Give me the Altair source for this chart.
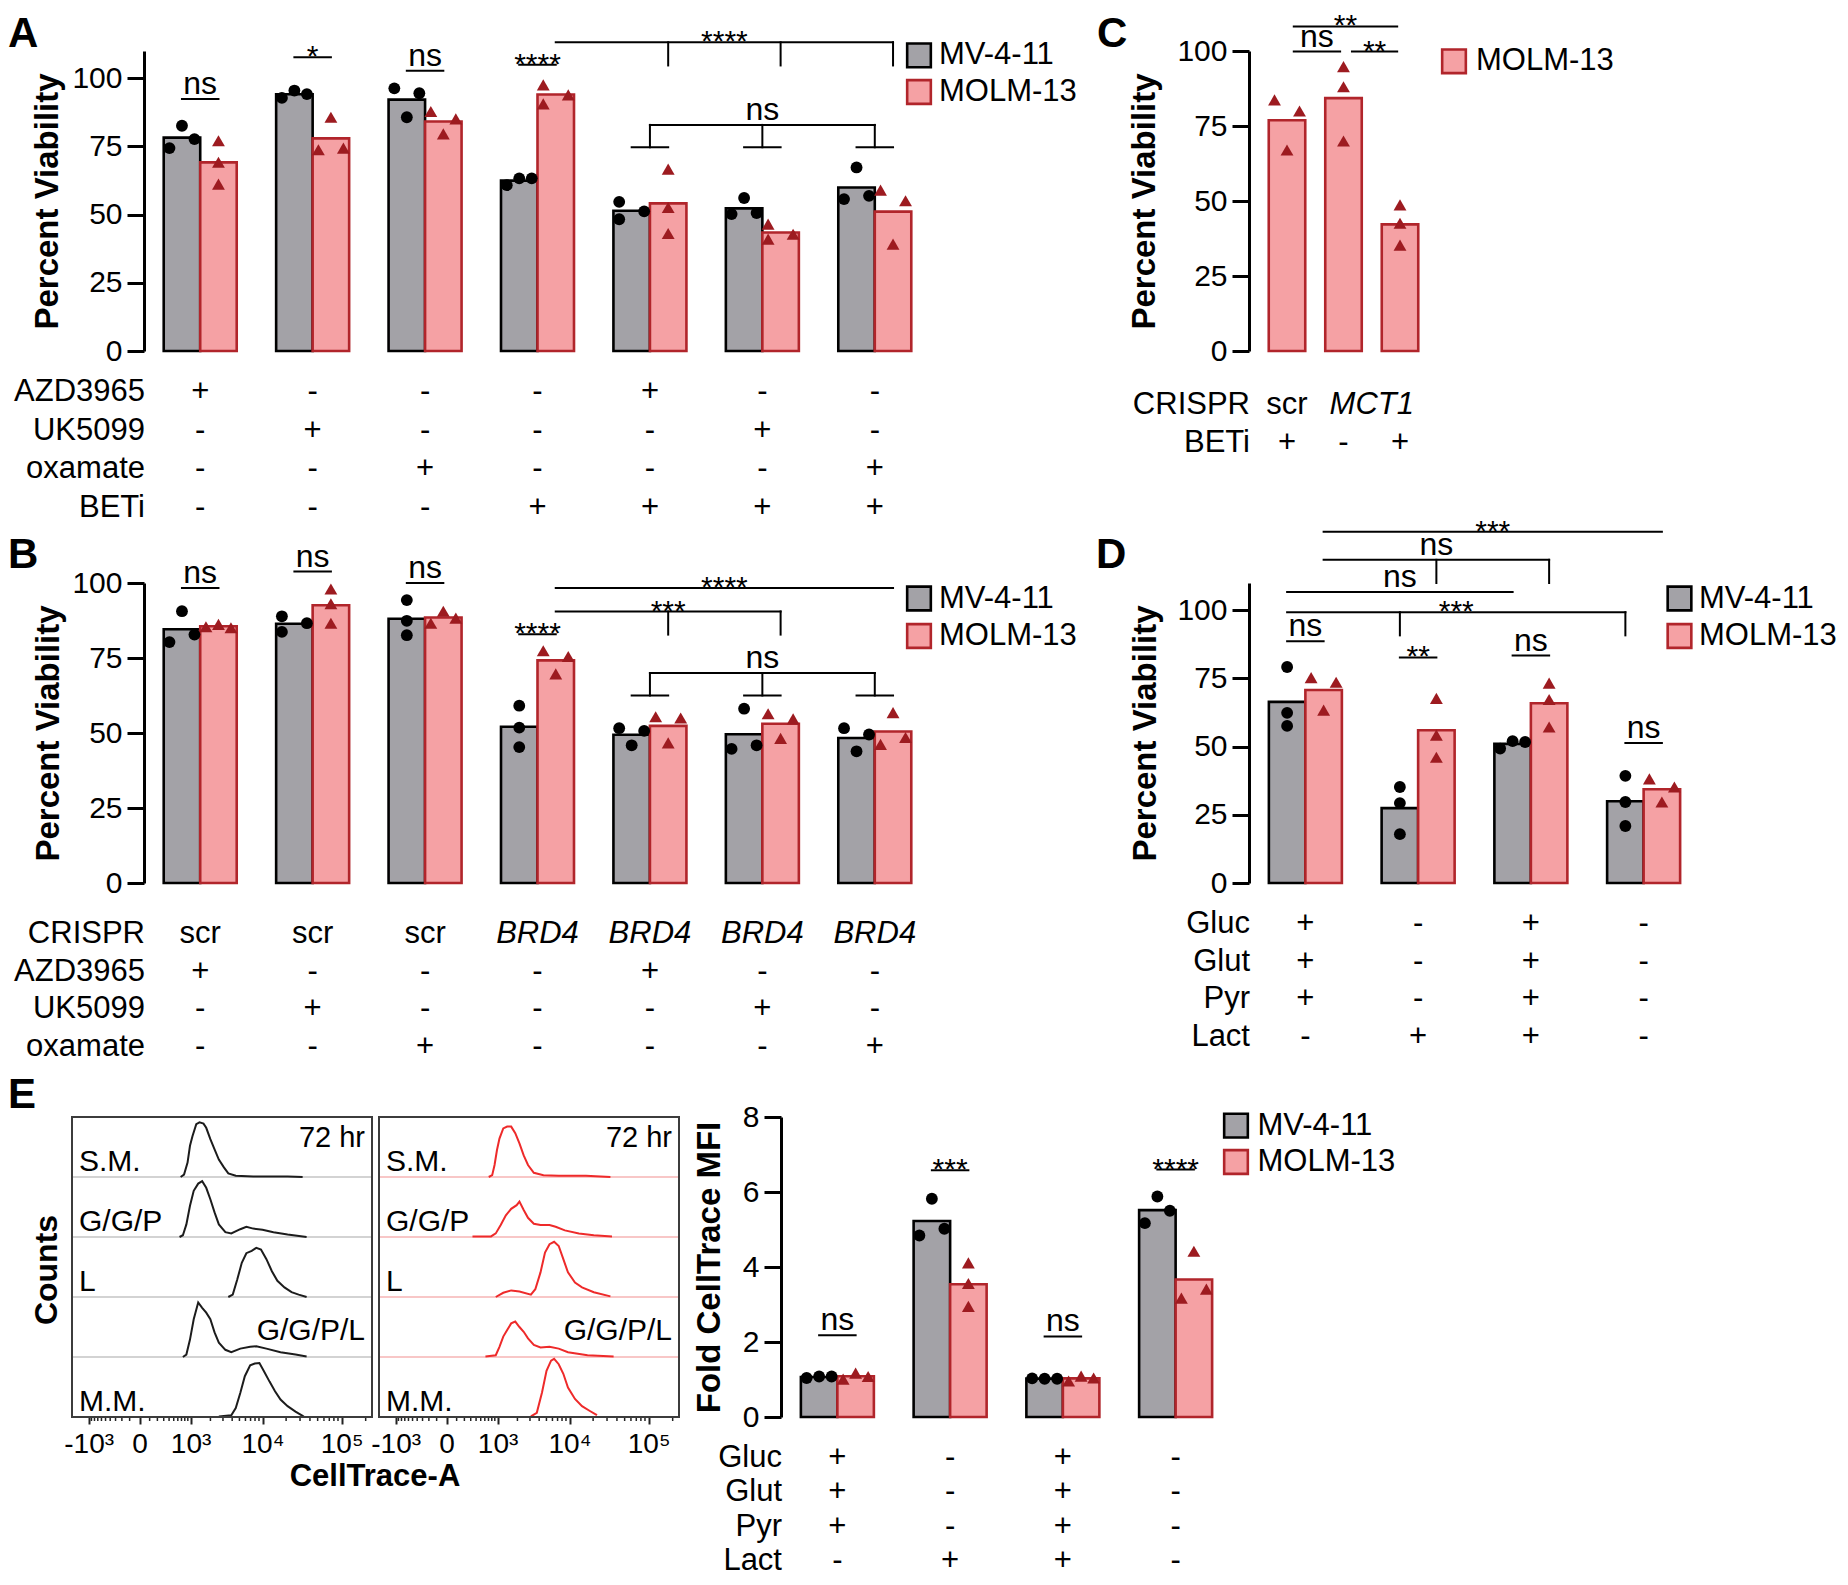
import altair as alt
import pandas as pd

FONT = "Liberation Sans"
GREY = "#a3a2a7"
PINK = "#f5a1a4"
RED = "#b1252b"
TRI = "#9d1b20"
H_BLACK = "#1c1c1c"
H_RED = "#ee2a2a"
SER = ["MV-4-11", "MOLM-13"]
ITALIC = {"BRD4", "MCT1"}

# ---------------- Panel A ----------------
A_ROWS = ["AZD3965", "UK5099", "oxamate", "BETi"]
A_TABLE = [
    ["+", "-", "-", "-", "+", "-", "-"],
    ["-", "+", "-", "-", "-", "+", "-"],
    ["-", "-", "+", "-", "-", "-", "+"],
    ["-", "-", "-", "+", "+", "+", "+"],
]
A_MV = [[74.4, 82.6, 77.7], [92.8, 95.5, 94.2], [96.3, 85.7, 94.5], [60.8, 63.3, 63.3],
        [54.7, 48.3, 51.2], [50.2, 56.1, 50.6], [55.7, 67.3, 56.9]]
A_MV_SLOT = [[-1, 0, 1], [-1, 0, 1], [-1, 0, 1], [-1, 0, 1], [-1, -1, 1], [-1, 0, 1], [-1, 0, 1]]
A_MOLM = [[77.1, 69.2, 61.2], [73.8, 85.7, 74.4], [87.8, 79.6, 85.1], [97.6, 90.6, 93.9],
          [66.7, 52.6, 43.1], [46.5, 41.0, 42.8], [59.0, 39.2, 55.1]]
A_MOLM_SLOT = [[0, 0, 0], [-1, 0, 1], [-1, 0, 1], [-1, -1, 1], [0, 0, 0], [-1, -1, 1], [-1, 0, 1]]
A_PAIR_LABEL = ["ns", "*", "ns", "****"]
A_PAIR_Y = [92.4, 107.7, 102.8, 105.0]
A_BRACKETS = [
    dict(label="****", start=(3, 1), end=(6, 1), y=113.2, drops=[(4, 1), (5, 1), (6, 1)], drop_to=104.7),
    dict(label="ns", start=(4, 0), end=(6, 0), y=82.9, drops=[(4, 0), (5, 0), (6, 0)], drop_to=74.7,
         feet=[4, 5, 6]),
]

# ---------------- Panel B ----------------
B_ROWS = ["CRISPR", "AZD3965", "UK5099", "oxamate"]
B_TABLE = [
    ["scr", "scr", "scr", "BRD4", "BRD4", "BRD4", "BRD4"],
    ["+", "-", "-", "-", "+", "-", "-"],
    ["-", "+", "-", "-", "-", "+", "-"],
    ["-", "-", "+", "-", "-", "-", "+"],
]
B_MV = [[80.3, 90.6, 82.8], [88.9, 83.7, 86.6], [94.3, 87.4, 82.6], [59.1, 51.8, 45.3],
        [51.6, 45.9, 50.7], [44.7, 58.1, 45.9], [51.6, 43.9, 49.5]]
B_MV_SLOT = [[-1, 0, 1], [-1, -1, 1], [0, 0, 0], [0, 0, 0], [-1, 0, 1], [-1, 0, 1], [-1, 0, 1]]
B_MOLM = [[85.4, 86.2, 85.1], [98.0, 93.1, 86.6], [86.6, 90.6, 88.3], [77.4, 69.7, 75.5],
          [55.4, 46.7, 55.0], [56.4, 48.2, 54.7], [46.2, 56.8, 48.5]]
B_MOLM_SLOT = [[-1, 0, 1], [0, 0, 0], [-1, 0, 1], [-1, 0, 1], [-1, 0, 1], [-1, 0, 1], [-1, 0, 1]]
B_PAIR_LABEL = ["ns", "ns", "ns", "****"]
B_PAIR_Y = [98.3, 103.8, 100.0, 82.9]
B_BRACKETS = [
    dict(label="****", start=(3, 1), end=(6, 1), y=98.3),
    dict(label="***", start=(3, 1), end=(5, 1), y=90.5, drops=[(4, 1), (5, 1)], drop_to=82.8),
    dict(label="ns", start=(4, 0), end=(6, 0), y=70.0, drops=[(4, 0), (5, 0), (6, 0)], drop_to=62.5,
         feet=[4, 5, 6]),
]

# ---------------- Panel C ----------------
C_ROWS = ["CRISPR", "BETi"]
C_CRISPR = ["scr", "MCT1"]
C_CRISPR_AT = [0, 1.5]
C_BETI = ["+", "-", "+"]
C_MOLM = [[83.7, 67.0, 80.0], [94.8, 88.1, 70.0], [48.7, 42.6, 35.3]]
C_SLOT = [[-1, 0, 1], [0, 0, 0], [0, 0, 0]]
C_COMP_LABEL = ["ns", "**", "**"]
C_COMP_FROM = [0.12, 1.15, 0.12]
C_COMP_TO = [0.94, 1.95, 1.95]
C_COMP_Y = [99.8, 99.8, 108.2]

# ---------------- Panel D ----------------
D_ROWS = ["Gluc", "Glut", "Pyr", "Lact"]
D_TABLE = [
    ["+", "-", "+", "-"],
    ["+", "-", "+", "-"],
    ["+", "-", "+", "-"],
    ["-", "+", "+", "-"],
]
D_MV = [[79.2, 62.4, 57.6], [35.2, 29.3, 17.9], [49.3, 52.0, 51.7], [39.3, 29.7, 20.9]]
D_MV_SLOT = [[0, 0, 0], [0, 0, 0], [-1, 0, 1], [0, 0, 0]]
D_MOLM = [[75.3, 63.4, 73.6], [67.7, 54.2, 46.1], [73.3, 67.3, 57.2], [38.2, 29.7, 35.2]]
D_MOLM_SLOT = [[-1, 0, 1], [0, 0, 0], [0, 0, 0], [-1, 0, 1]]
D_PAIR_LABEL = ["ns", "**", "ns", "ns"]
D_PAIR_Y = [88.6, 82.7, 83.4, 51.3]
D_BRACKETS = [
    dict(label="***", start=(0, -1), end=(3, -1), y=99.3, drops=[(1, -1), (3, -1)], drop_to=90.8),
    dict(label="ns", start=(0, -1), end=(2, -1), y=106.7),
    dict(label="ns", start=(0, 1), end=(2, 1), y=118.5, drops=[(1, 1), (2, 1)], drop_to=110.0),
    dict(label="***", start=(0, 1), end=(3, 1), y=128.8),
]

# ---------------- Panel E (bars) ----------------
E_ROWS = ["Gluc", "Glut", "Pyr", "Lact"]
E_TABLE = [
    ["+", "-", "+", "-"],
    ["+", "-", "+", "-"],
    ["+", "-", "+", "-"],
    ["-", "+", "+", "-"],
]
E_MV = [[1.04, 1.08, 1.08], [4.84, 5.82, 5.02], [1.03, 1.02, 1.02], [5.17, 5.88, 5.50]]
E_MV_SLOT = [[-1, 0, 1], [-1, 0, 1], [-1, 0, 1], [-1, 0, 1]]
E_MOLM = [[1.01, 1.17, 1.08], [4.11, 3.56, 2.95], [0.96, 1.09, 1.04], [3.17, 4.42, 3.41]]
E_MOLM_SLOT = [[-1, 0, 1], [0, 0, 0], [-1, 0, 1], [-1, 0, 1]]
E_PAIR_LABEL = ["ns", "***", "ns", "****"]
E_PAIR_Y = [2.18, 6.58, 2.15, 6.6]

# ---------------- Panel E (CellTrace histograms) ----------------
HROWS = ["S.M.", "G/G/P", "L", "G/G/P/L", "M.M."]
# log10(CellTrace-A) positions and relative counts (fraction of the row height)
HB_SM_LG = [2.83, 2.89, 2.95, 2.99, 3.03, 3.09, 3.14, 3.20, 3.24, 3.30, 3.36, 3.42, 3.49, 3.55, 3.65, 3.88, 4.32, 4.51]
HB_SM_H = [0, 0.04, 0.24, 0.52, 0.68, 0.88, 0.91, 0.89, 0.82, 0.63, 0.46, 0.29, 0.16, 0.06, 0.02, 0.01, 0.01, 0]
HB_GGP_LG = [2.81, 2.87, 2.93, 2.99, 3.05, 3.12, 3.18, 3.24, 3.30, 3.36, 3.42, 3.51, 3.59, 3.71, 3.79, 3.88, 4.00, 4.14, 4.32, 4.56]
HB_GGP_H = [0, 0.03, 0.21, 0.52, 0.77, 0.89, 0.93, 0.82, 0.63, 0.41, 0.21, 0.08, 0.06, 0.13, 0.17, 0.14, 0.12, 0.08, 0.04, 0]
HB_L_LG = [3.55, 3.61, 3.67, 3.73, 3.79, 3.86, 3.92, 3.98, 4.05, 4.12, 4.19, 4.28, 4.37, 4.46, 4.56]
HB_L_H = [0, 0.04, 0.29, 0.57, 0.73, 0.77, 0.82, 0.79, 0.63, 0.43, 0.27, 0.16, 0.08, 0.04, 0]
HB_GGPL_LG = [2.87, 2.93, 2.99, 3.05, 3.12, 3.18, 3.24, 3.30, 3.36, 3.42, 3.51, 3.59, 3.71, 3.84, 3.92, 4.05, 4.23, 4.42, 4.56]
HB_GGPL_H = [0, 0.04, 0.29, 0.63, 0.91, 0.82, 0.74, 0.63, 0.41, 0.24, 0.12, 0.08, 0.14, 0.17, 0.18, 0.14, 0.08, 0.04, 0.01]
HB_MM_LG = [3.42, 3.59, 3.65, 3.71, 3.77, 3.84, 3.90, 3.96, 4.02, 4.09, 4.16, 4.23, 4.32, 4.42, 4.51, 4.53]
HB_MM_H = [0.01, 0.03, 0.15, 0.40, 0.68, 0.86, 0.89, 0.90, 0.76, 0.59, 0.43, 0.29, 0.18, 0.09, 0.02, 0]

HR_SM_LG = [2.85, 2.91, 2.95, 2.99, 3.03, 3.09, 3.15, 3.21, 3.27, 3.33, 3.39, 3.45, 3.53, 3.66, 3.86, 4.21, 4.52]
HR_SM_H = [0, 0.03, 0.20, 0.45, 0.64, 0.81, 0.84, 0.84, 0.73, 0.56, 0.36, 0.20, 0.07, 0.03, 0.02, 0.02, 0]
HR_GGP_LG = [2.52, 2.89, 2.97, 3.05, 3.13, 3.21, 3.29, 3.33, 3.39, 3.45, 3.53, 3.62, 3.74, 3.82, 3.94, 4.12, 4.31, 4.54]
HR_GGP_H = [0.01, 0.01, 0.06, 0.20, 0.36, 0.47, 0.53, 0.59, 0.45, 0.32, 0.22, 0.20, 0.20, 0.17, 0.11, 0.06, 0.03, 0.01]
HR_L_LG = [2.97, 3.09, 3.21, 3.33, 3.49, 3.55, 3.62, 3.68, 3.74, 3.80, 3.86, 3.92, 3.98, 4.07, 4.16, 4.31, 4.52]
HR_L_H = [0, 0.07, 0.11, 0.09, 0.04, 0.13, 0.41, 0.74, 0.88, 0.92, 0.85, 0.63, 0.41, 0.24, 0.16, 0.08, 0.01]
HR_GGPL_LG = [2.79, 2.97, 3.03, 3.09, 3.15, 3.21, 3.27, 3.33, 3.39, 3.45, 3.53, 3.62, 3.74, 3.86, 3.98, 4.23, 4.56]
HR_GGPL_H = [0.01, 0.03, 0.17, 0.34, 0.45, 0.56, 0.59, 0.50, 0.42, 0.31, 0.20, 0.16, 0.17, 0.14, 0.08, 0.03, 0.01]
HR_MM_LG = [3.49, 3.57, 3.64, 3.70, 3.76, 3.80, 3.86, 3.92, 3.98, 4.07, 4.16, 4.26, 4.35]
HR_MM_H = [0.01, 0.07, 0.41, 0.77, 0.94, 0.97, 0.88, 0.72, 0.49, 0.30, 0.18, 0.10, 0.03]

HIST_TICKS = [-1000, 0, 1000, 10000, 100000]
HIST_MINOR = [-900, -800, -700, -600, -500, -400, -300, -200, -100,
              100, 200, 300, 400, 500, 600, 700, 800, 900,
              2000, 3000, 4000, 5000, 6000, 7000, 8000, 9000,
              20000, 30000, 40000, 50000, 60000, 70000, 80000, 90000, 200000]

# ---------------- styling constants ----------------
PLOT_H = 300
BAR_HALF = 18.25   # px, half of a bar's width
LANE = 12.5        # px between side-by-side replicate symbols


def points_df(mv, mv_slot, molm, molm_slot):
    rec = []
    two = mv is not None
    for g in range(len(molm)):
        if two:
            for v, sl in zip(mv[g], mv_slot[g]):
                rec.append(dict(g=g, series=SER[0], s=-1, v=v, slot=sl))
        for v, sl in zip(molm[g], molm_slot[g]):
            rec.append(dict(g=g, series=SER[1], s=1 if two else 0, v=v, slot=sl))
    return pd.DataFrame(rec)


def annot_df(pair_label=None, pair_y=None, brackets=(), free=None):
    segs, texts = [], []
    if pair_label:
        for g, (lab, y) in enumerate(zip(pair_label, pair_y)):
            segs.append(dict(g1=g, s1=-1, g2=g, s2=1, ya=y, yb=y))
            texts.append(dict(g1=g, s1=-1, g2=g, s2=1, y=y, label=lab))
    for b in brackets:
        (g1, s1), (g2, s2) = b["start"], b["end"]
        segs.append(dict(g1=g1, s1=s1, g2=g2, s2=s2, ya=b["y"], yb=b["y"]))
        texts.append(dict(g1=g1, s1=s1, g2=g2, s2=s2, y=b["y"], label=b["label"]))
        for g, s in b.get("drops", []):
            segs.append(dict(g1=g, s1=s, g2=g, s2=s, ya=b["y"], yb=b["drop_to"]))
        for g in b.get("feet", []):
            segs.append(dict(g1=g, s1=-1, g2=g, s2=1, ya=b["drop_to"], yb=b["drop_to"]))
    if free:
        for lab, a, c, y in zip(*free):
            segs.append(dict(g1=a, s1=0, g2=c, s2=0, ya=y, yb=y))
            texts.append(dict(g1=a, s1=0, g2=c, s2=0, y=y, label=lab))
    return pd.DataFrame(segs), pd.DataFrame(texts)


def table_df(rows, cells):
    rec = []
    for name, row in zip(rows, cells):
        for g, t in enumerate(row):
            rec.append(dict(row=name, x=g, t=t, it=t in ITALIC))
    return pd.DataFrame(rec)


def frame_layer(box):
    # invisible rectangle that fixes the extent of a panel inside the page grid
    x1, x2, y1, y2 = box
    return alt.Chart(pd.DataFrame({"a": [0]})).mark_rect(opacity=0).encode(
        x=alt.value(x1), x2=alt.value(x2), y=alt.value(y1), y2=alt.value(y2))


def letter_layer(txt, x, y):
    return alt.Chart(pd.DataFrame({"t": [txt]})).mark_text(
        fontSize=42, fontWeight="bold", align="left", baseline="alphabetic", color="#000").encode(
        x=alt.value(x), y=alt.value(y), text="t:N")


def bar_panel(pts, segs, texts, tab, rows, n, W, xdom, ymax, yticks, ytitle, title_x,
              table_range, legend, letter, box):
    lo, hi = xdom
    unit = W / (hi - lo)
    H = BAR_HALF / unit
    L = LANE / unit
    xs = alt.Scale(domain=[lo, hi], nice=False, zero=False)

    def ys():
        return alt.Scale(domain=[0, ymax], nice=False, zero=False)

    def fill():
        return alt.Fill("series:N", scale=alt.Scale(domain=SER, range=[GREY, PINK]), legend=None)

    def stroke():
        return alt.Stroke("series:N", scale=alt.Scale(domain=SER, range=["#000000", RED]), legend=None)

    xaxis = alt.Axis(values=list(range(n)), labels=False, title=None, grid=False, tickSize=18,
                     tickWidth=3, domainWidth=3, domainColor="#000", tickColor="#000", zindex=2)
    yaxis = alt.Axis(values=yticks, title=ytitle, grid=False, tickSize=17, tickWidth=3, domainWidth=3,
                     domainColor="#000", tickColor="#000", labelFontSize=30, labelColor="#000",
                     labelPadding=5, labelFlush=False, labelOverlap=False, titleFontSize=33,
                     titleFontWeight="bold", titleColor="#000", titleX=title_x, titleY=PLOT_H / 2,
                     titleAngle=270, titleAlign="center", titleBaseline="middle", zindex=2)
    src = alt.Chart(pts)
    bars = src.transform_aggregate(m="mean(v)", groupby=["g", "series", "s"]).transform_calculate(
        x1=f"datum.g + datum.s * {H} - {H}", x2=f"datum.g + datum.s * {H} + {H}"
    ).mark_rect(strokeWidth=2.6).encode(
        x=alt.X("x1:Q", scale=xs, axis=xaxis), x2="x2:Q",
        y=alt.Y("m:Q", scale=ys(), axis=yaxis), y2=alt.datum(0),
        fill=fill(), stroke=stroke())

    psrc = src.transform_calculate(px=f"datum.g + datum.s * {H} + datum.slot * {L}")
    dots = psrc.transform_filter(alt.datum.series == SER[0]).mark_point(
        filled=True, size=140, color="#000", opacity=1).encode(
        x=alt.X("px:Q", scale=xs, axis=None), y=alt.Y("v:Q", scale=ys(), axis=None))
    tris = psrc.transform_filter(alt.datum.series == SER[1]).mark_point(
        shape="triangle-up", filled=True, size=165, color=TRI, opacity=1).encode(
        x=alt.X("px:Q", scale=xs, axis=None), y=alt.Y("v:Q", scale=ys(), axis=None))

    lines = alt.Chart(segs).transform_calculate(
        xa=f"datum.g1 + datum.s1 * {H}", xb=f"datum.g2 + datum.s2 * {H}"
    ).mark_rule(strokeWidth=2, color="#000", strokeCap="square").encode(
        x=alt.X("xa:Q", scale=xs, axis=None), x2="xb:Q",
        y=alt.Y("ya:Q", scale=ys(), axis=None), y2="yb:Q")
    tsrc = alt.Chart(texts).transform_calculate(
        xm=f"(datum.g1 + datum.s1 * {H} + datum.g2 + datum.s2 * {H}) / 2")
    ns = tsrc.transform_filter("datum.label == 'ns'").mark_text(
        fontSize=32, dy=-5, baseline="alphabetic", color="#000").encode(
        x=alt.X("xm:Q", scale=xs, axis=None), y=alt.Y("y:Q", scale=ys(), axis=None), text="label:N")
    stars = tsrc.transform_filter("datum.label != 'ns'").mark_text(
        fontSize=30, dy=9, baseline="alphabetic", color="#000").encode(
        x=alt.X("xm:Q", scale=xs, axis=None), y=alt.Y("y:Q", scale=ys(), axis=None), text="label:N")

    def ty():
        return alt.Scale(domain=rows, range=list(table_range), padding=0)

    tsrc2 = alt.Chart(tab)
    tn = tsrc2.transform_filter("!datum.it").mark_text(fontSize=31, baseline="middle", color="#000").encode(
        x=alt.X("x:Q", scale=xs, axis=None), y=alt.Y("row:N", scale=ty(), axis=None), text="t:N")
    ti = tsrc2.transform_filter("datum.it").mark_text(
        fontSize=31, baseline="middle", fontStyle="italic", color="#000").encode(
        x=alt.X("x:Q", scale=xs, axis=None), y=alt.Y("row:N", scale=ty(), axis=None), text="t:N")
    rl = alt.Chart(pd.DataFrame({"row": rows})).mark_text(
        fontSize=31, baseline="middle", align="right", color="#000").encode(
        x=alt.value(1), y=alt.Y("row:N", scale=ty(), axis=None), text="row:N")

    lser, lx, lys, ltx = legend
    ldf = pd.DataFrame({"series": lser})

    def ly():
        return alt.Scale(domain=lser, range=list(lys), padding=0)

    sq = alt.Chart(ldf).mark_square(size=560, strokeWidth=2.6, opacity=1, filled=True).encode(
        x=alt.value(lx), y=alt.Y("series:N", scale=ly(), axis=None), fill=fill(), stroke=stroke())
    lt = alt.Chart(ldf).mark_text(fontSize=31, align="left", baseline="middle", color="#000").encode(
        x=alt.value(ltx), y=alt.Y("series:N", scale=ly(), axis=None), text="series:N")

    layers = [frame_layer(box), bars, lines, dots, tris, ns, stars, tn, ti, rl, sq, lt]
    if letter:
        layers.append(letter_layer(*letter))
    return alt.layer(*layers).resolve_scale(y="independent").properties(width=W, height=PLOT_H)


def hist_pair(panels, box):
    # the view origin is aligned with panels A/B (page x 144); the two boxes sit at -72 and +235
    def ys():
        return alt.Scale(domain=[0, 5], nice=False, zero=False)

    label_expr = ("datum.value == 0 ? '0' : datum.value < 0 ? '-10\u00b3' : datum.value == 1000 ? '10\u00b3'"
                  " : datum.value == 10000 ? '10\u2074' : '10\u2075'")
    layers = [frame_layer(box)]
    lab = pd.DataFrame({"r": list(range(5)), "name": HROWS})
    for ox, curves, color, base_color in panels:
        def xs(ox=ox):
            return alt.Scale(type="symlog", constant=300, domain=[-1800, 240000], range=[ox, ox + 300],
                             nice=False, zero=False)
        rec = []
        for r, (lg, h) in enumerate(curves):
            for a, b in zip(lg, h):
                rec.append(dict(r=r, lg=a, h=b))
        cdf = pd.DataFrame(rec)
        xaxis = alt.Axis(orient="bottom", values=HIST_TICKS, labelExpr=label_expr, title=None, grid=False,
                         domain=False, tickSize=7, tickWidth=2, tickColor="#222", labelFontSize=28,
                         labelColor="#000", labelPadding=6, labelFlush=False, labelOverlap=False,
                         labelBound=False)
        box_l = alt.Chart(pd.DataFrame({"a": [0]})).mark_rect(
            fillOpacity=0, stroke="#3c3c3c", strokeWidth=2).encode(
            x=alt.value(ox), x2=alt.value(ox + 300), y=alt.value(0), y2=alt.value(PLOT_H))
        baselines = alt.Chart(pd.DataFrame({"r": list(range(5))})).transform_calculate(
            yb="4 - datum.r").mark_rule(color=base_color, strokeWidth=1.5).encode(
            x=alt.value(ox), x2=alt.value(ox + 300), y=alt.Y("yb:Q", scale=ys(), axis=None))
        curve = alt.Chart(cdf).transform_calculate(
            v="pow(10, datum.lg)", yy="4 - datum.r + datum.h").mark_line(color=color, strokeWidth=2).encode(
            x=alt.X("v:Q", scale=xs(), axis=xaxis), y=alt.Y("yy:Q", scale=ys(), axis=None), detail="r:N")
        minor = alt.Chart(pd.DataFrame({"t": HIST_MINOR})).mark_rule(color="#222", strokeWidth=1.5).encode(
            x=alt.X("t:Q", scale=xs(), axis=None), y=alt.value(PLOT_H), y2=alt.value(PLOT_H + 4))
        left = alt.Chart(lab).transform_filter("datum.name != 'G/G/P/L'").transform_calculate(
            yb="4 - datum.r").mark_text(fontSize=30, align="left", baseline="alphabetic", dy=-6,
                                        color="#000").encode(
            x=alt.value(ox + 7), y=alt.Y("yb:Q", scale=ys(), axis=None), text="name:N")
        right = alt.Chart(lab).transform_filter("datum.name == 'G/G/P/L'").transform_calculate(
            yb="4 - datum.r").mark_text(fontSize=30, align="right", baseline="alphabetic", dy=-17,
                                        color="#000").encode(
            x=alt.value(ox + 293), y=alt.Y("yb:Q", scale=ys(), axis=None), text="name:N")
        hr = alt.Chart(pd.DataFrame({"t": ["72 hr"]})).mark_text(
            fontSize=29, align="right", baseline="alphabetic", color="#000").encode(
            x=alt.value(ox + 293), y=alt.value(30), text="t:N")
        layers += [baselines, curve, minor, box_l, left, right, hr]
    layers.append(alt.Chart(pd.DataFrame({"t": ["Counts"]})).mark_text(
        fontSize=32, fontWeight="bold", angle=270, align="center", baseline="middle", color="#000").encode(
        x=alt.value(-97), y=alt.value(153), text="t:N"))
    layers.append(alt.Chart(pd.DataFrame({"t": ["CellTrace-A"]})).mark_text(
        fontSize=31, fontWeight="bold", align="center", baseline="middle", color="#000").encode(
        x=alt.value(231), y=alt.value(360), text="t:N"))
    layers.append(letter_layer("E", -136, -9))
    return alt.layer(*layers).resolve_scale(x="independent").properties(width=535, height=PLOT_H)


# ---------------- build panels ----------------
a_segs, a_txt = annot_df(A_PAIR_LABEL, A_PAIR_Y, A_BRACKETS)
A = bar_panel(points_df(A_MV, A_MV_SLOT, A_MOLM, A_MOLM_SLOT), a_segs, a_txt, table_df(A_ROWS, A_TABLE),
              A_ROWS, 7, 787, (-0.5, 6.5), 110, [0, 25, 50, 75, 100], "Percent Viability", -97,
              (341, 457), (SER, 775, (4.4, 41), 795), ("A", -136, -4), (-136, 942, -43, 478))

b_segs, b_txt = annot_df(B_PAIR_LABEL, B_PAIR_Y, B_BRACKETS)
B = bar_panel(points_df(B_MV, B_MV_SLOT, B_MOLM, B_MOLM_SLOT), b_segs, b_txt, table_df(B_ROWS, B_TABLE),
              B_ROWS, 7, 787, (-0.5, 6.5), 100, [0, 25, 50, 75, 100], "Percent Viability", -96,
              (351, 464), (SER, 775, (15.5, 53), 795), ("B", -136, -15), (-136, 942, -54, 486))

c_segs, c_txt = annot_df(free=(C_COMP_LABEL, C_COMP_FROM, C_COMP_TO, C_COMP_Y))
c_tab = pd.DataFrame(
    [dict(row="CRISPR", x=x, t=t, it=t in ITALIC) for x, t in zip(C_CRISPR_AT, C_CRISPR)]
    + [dict(row="BETi", x=g, t=t, it=t in ITALIC) for g, t in enumerate(C_BETI)])
C = bar_panel(points_df(None, None, C_MOLM, C_SLOT), c_segs, c_txt, c_tab,
              C_ROWS, 3, 189, (-0.6725, 2.6725), 100, [0, 25, 50, 75, 100], "Percent Viability", -105,
              (354, 392), (["MOLM-13"], 205, (10.3, 10.3), 227), ("C", -152, -4), (-163, 591, -43, 439))

d_segs, d_txt = annot_df(D_PAIR_LABEL, D_PAIR_Y, D_BRACKETS)
D = bar_panel(points_df(D_MV, D_MV_SLOT, D_MOLM, D_MOLM_SLOT), d_segs, d_txt, table_df(D_ROWS, D_TABLE),
              D_ROWS, 4, 451, (-0.5, 3.5), 110, [0, 25, 50, 75, 100], "Percent Viability", -104,
              (341, 454), (SER, 430.5, (15.5, 53), 450), ("D", -153, -15), (-163, 591, -93, 486))

e_segs, e_txt = annot_df(E_PAIR_LABEL, E_PAIR_Y)
EB = bar_panel(points_df(E_MV, E_MV_SLOT, E_MOLM, E_MOLM_SLOT), e_segs, e_txt, table_df(E_ROWS, E_TABLE),
               E_ROWS, 4, 451, (-0.5, 3.5), 8, [0, 2, 4, 6, 8], "Fold CellTrace MFI", -72,
               (341, 444), (SER, 455, (8.6, 45), 476.5), None, (-95, 1059, -48, 460))

HH = hist_pair([
    (-72, [(HB_SM_LG, HB_SM_H), (HB_GGP_LG, HB_GGP_H), (HB_L_LG, HB_L_H),
           (HB_GGPL_LG, HB_GGPL_H), (HB_MM_LG, HB_MM_H)], H_BLACK, "#c4c4c4"),
    (235, [(HR_SM_LG, HR_SM_H), (HR_GGP_LG, HR_GGP_H), (HR_L_LG, HR_L_H),
           (HR_GGPL_LG, HR_GGPL_H), (HR_MM_LG, HR_MM_H)], H_RED, "#f6b4b4"),
], (-136, 542, -48, 460))

top = alt.hconcat(alt.vconcat(A, B, spacing=0), alt.vconcat(C, D, spacing=0), spacing=0)
bottom = alt.hconcat(HH, EB, spacing=0)
chart = alt.vconcat(top, bottom, spacing=0).properties(
    padding=0, background="white").configure(font=FONT).configure_view(stroke=None)

chart.save("out.html", embed_options={"renderer": "svg", "actions": False})
